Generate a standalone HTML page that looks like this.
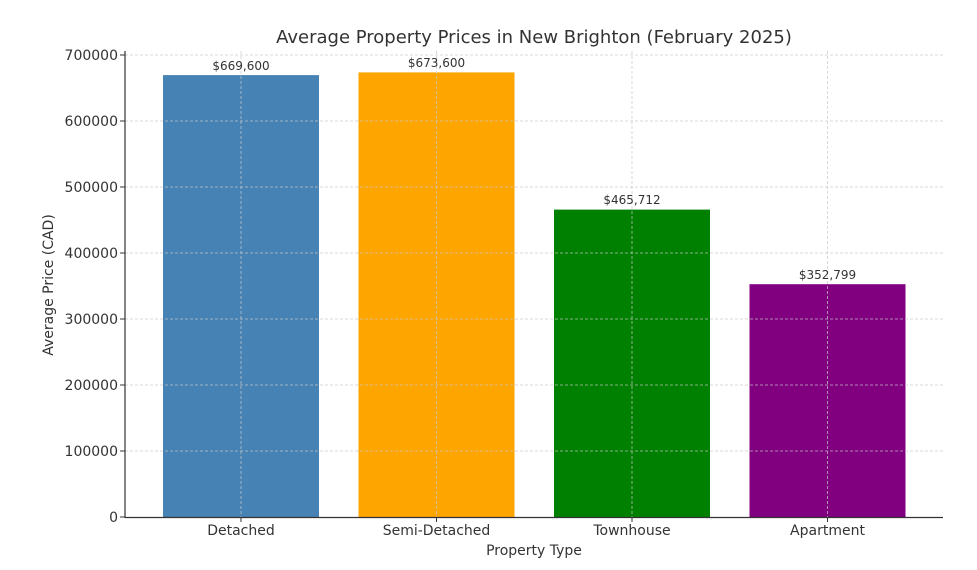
<!DOCTYPE html>
<html><head><meta charset="utf-8"><style>body{margin:0;background:#fff}svg{display:block}</style></head><body>
<svg width="977" height="570" xmlns="http://www.w3.org/2000/svg" font-family="'DejaVu Sans', 'Liberation Sans', sans-serif">
<rect width="977" height="570" fill="#fff"/>
<text x="534" y="43" font-size="18" fill="#333" text-anchor="middle">Average Property Prices in New Brighton (February 2025)</text>
<rect x="163" y="75.1" width="156" height="441.9" fill="#4682b4"/>
<rect x="358.5" y="72.4" width="156" height="444.6" fill="#ffa500"/>
<rect x="554" y="209.6" width="156" height="307.4" fill="#008000"/>
<rect x="749.5" y="284.2" width="156" height="232.8" fill="#800080"/>
<g stroke="#c8c8c8" stroke-width="0.8" stroke-dasharray="3,2" opacity="0.9">
<line x1="125" x2="943" y1="55" y2="55"/><line x1="125" x2="943" y1="121" y2="121"/>
<line x1="125" x2="943" y1="187" y2="187"/><line x1="125" x2="943" y1="253" y2="253"/>
<line x1="125" x2="943" y1="319" y2="319"/><line x1="125" x2="943" y1="385" y2="385"/>
<line x1="125" x2="943" y1="451" y2="451"/>
<line x1="241" x2="241" y1="51" y2="517"/><line x1="436.5" x2="436.5" y1="51" y2="517"/>
<line x1="632" x2="632" y1="51" y2="517"/><line x1="827.5" x2="827.5" y1="51" y2="517"/>
</g>
<line x1="125" x2="125" y1="51" y2="518" stroke="#333" stroke-width="1.2"/>
<line x1="125" x2="943" y1="517.5" y2="517.5" stroke="#333" stroke-width="1.2"/>
<g stroke="#333" stroke-width="1">
<line x1="120" x2="125" y1="55" y2="55"/><line x1="120" x2="125" y1="121" y2="121"/><line x1="120" x2="125" y1="187" y2="187"/><line x1="120" x2="125" y1="253" y2="253"/><line x1="120" x2="125" y1="319" y2="319"/><line x1="120" x2="125" y1="385" y2="385"/><line x1="120" x2="125" y1="451" y2="451"/><line x1="120" x2="125" y1="517" y2="517"/>
<line x1="241" x2="241" y1="517" y2="522"/><line x1="436.5" x2="436.5" y1="517" y2="522"/><line x1="632" x2="632" y1="517" y2="522"/><line x1="827.5" x2="827.5" y1="517" y2="522"/>
</g>
<g font-size="14" fill="#333" text-anchor="end">
<text x="118" y="60">700000</text><text x="118" y="126">600000</text><text x="118" y="192">500000</text><text x="118" y="258">400000</text><text x="118" y="324">300000</text><text x="118" y="390">200000</text><text x="118" y="456">100000</text><text x="118" y="522">0</text>
</g>
<g font-size="14" fill="#333" text-anchor="middle">
<text x="241" y="535">Detached</text><text x="436.5" y="535">Semi-Detached</text><text x="632" y="535">Townhouse</text><text x="827.5" y="535">Apartment</text>
<text x="534" y="555">Property Type</text>
<text transform="translate(53,285) rotate(-90)">Average Price (CAD)</text>
</g>
<g font-size="12" fill="#333" text-anchor="middle">
<text x="241" y="70">$669,600</text><text x="436.5" y="67">$673,600</text><text x="632" y="204">$465,712</text><text x="827.5" y="279">$352,799</text>
</g>
</svg>
</body></html>
